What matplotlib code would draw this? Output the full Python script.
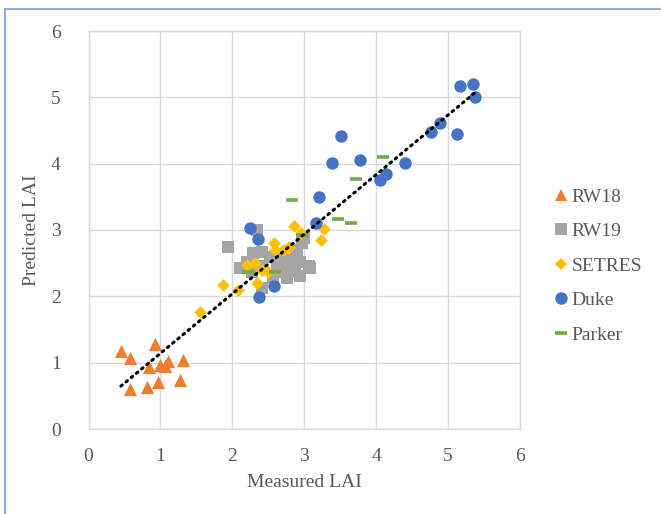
import numpy as np
import matplotlib
matplotlib.use("Agg")
import matplotlib.pyplot as plt
from matplotlib.lines import Line2D
from matplotlib.patches import Rectangle

plt.rcParams['font.family'] = ['Liberation Serif', 'DejaVu Serif']

# ---- data ----
rw18_x = [0.45, 0.58, 0.92, 0.84, 0.99, 1.06, 1.10, 1.32, 0.58, 0.81, 0.96, 1.27]
rw18_y = [1.17, 1.07, 1.28, 0.93, 0.97, 0.95, 1.02, 1.04, 0.60, 0.63, 0.71, 0.74]

rw19_x = [1.94, 2.34, 2.11, 2.20, 2.29, 2.41, 2.52, 2.66, 2.73, 2.76, 2.87, 2.94,
          2.97, 2.99, 3.06, 3.08, 2.83, 2.41, 2.62, 2.27, 2.39, 2.80, 2.90, 2.66,
          2.57, 2.94]
rw19_y = [2.74, 3.00, 2.42, 2.52, 2.65, 2.67, 2.60, 2.57, 2.45, 2.27, 2.37, 2.52,
          2.80, 2.88, 2.45, 2.42, 2.52, 2.12, 2.47, 2.37, 2.45, 2.62, 2.70, 2.37,
          2.28, 2.30]

setres_x = [2.86, 2.96, 3.27, 3.23, 2.58, 2.59, 2.71, 2.78, 2.79, 2.20, 2.32,
            2.41, 2.50, 2.34, 2.08, 1.87, 1.55]
setres_y = [3.06, 2.95, 3.01, 2.85, 2.80, 2.70, 2.70, 2.73, 2.75, 2.47, 2.50,
            2.40, 2.36, 2.20, 2.10, 2.17, 1.77]

duke_x = [5.17, 5.34, 5.38, 4.89, 4.76, 5.12, 3.51, 3.39, 3.78, 4.40, 4.14, 4.06,
          3.21, 3.17, 2.25, 2.36, 2.58, 2.37]
duke_y = [5.17, 5.20, 5.01, 4.62, 4.48, 4.44, 4.42, 4.01, 4.06, 4.01, 3.85, 3.76,
          3.50, 3.11, 3.03, 2.87, 2.16, 1.99]

parker_x = [4.10, 3.72, 3.47, 3.65, 2.83, 2.97, 2.22, 2.59]
parker_y = [4.10, 3.77, 3.16, 3.11, 3.45, 2.93, 2.36, 2.36]

series_names = ['RW18', 'RW19', 'SETRES', 'Duke', 'Parker']
ticks = [0, 1, 2, 3, 4, 5, 6]

# ---- figure ----
fig = plt.figure(figsize=(6.61, 5.14), dpi=100)
fig.patch.set_facecolor('white')
# light blue outer frame (left & top visible)
fig.patches.append(Rectangle((5/661, -0.1), 1.2, (514 - 9) / 514 + 0.1,
                             transform=fig.transFigure, fill=False,
                             edgecolor='#7FA8DC', linewidth=1.3))

ax = fig.add_axes([88.5/661, (514-429)/514, (520-88.5)/661, (429-31)/514])

grid_c = '#D9D9D9'
text_c = '#595959'

orange = '#ED7D31'
gray = '#A5A5A5'
yellow = '#FFC000'
blue = '#4472C4'
green = '#70AD47'

ax.scatter(rw18_x, rw18_y, marker='^', s=90, color=orange, linewidths=0, zorder=3)
ax.scatter(rw19_x, rw19_y, marker='s', s=68, color=gray, linewidths=0, zorder=3)
ax.scatter(setres_x, setres_y, marker='D', s=42, color=yellow, linewidths=0, zorder=3)
ax.scatter(duke_x, duke_y, marker='o', s=80, color=blue, linewidths=0, zorder=3)
ax.scatter(parker_x, parker_y, marker='_', s=75, color=green, linewidths=2.6, zorder=3)

# linear trend line over all data
all_x = np.concatenate([rw18_x, rw19_x, setres_x, duke_x, parker_x])
all_y = np.concatenate([rw18_y, rw19_y, setres_y, duke_y, parker_y])
k, b = np.polyfit(all_x, all_y, 1)
xl = np.array([all_x.min(), all_x.max()])
ax.plot(xl, k * xl + b, color='black', linewidth=2.2, linestyle=(0, (0.6, 1.6)),
        dash_capstyle='round', zorder=4)

ax.set_xlim(0, 6)
ax.set_ylim(0, 6)
ax.set_xticks(ticks)
ax.set_yticks(ticks)
ax.grid(True, color=grid_c, linewidth=1.0, zorder=0)
ax.set_axisbelow(True)
for sp in ax.spines.values():
    sp.set_color(grid_c)
    sp.set_linewidth(1.0)
ax.tick_params(length=0, labelsize=14, labelcolor=text_c)
ax.tick_params(axis='x', pad=14)
ax.tick_params(axis='y', pad=20)
ax.set_xlabel('Measured LAI', fontsize=14, color=text_c, labelpad=6)
ax.set_ylabel('Predicted LAI', fontsize=14, color=text_c, labelpad=8)

handles = [
    Line2D([], [], linestyle='none', marker='^', markersize=9, color=orange, markeredgewidth=0),
    Line2D([], [], linestyle='none', marker='s', markersize=8, color=gray, markeredgewidth=0),
    Line2D([], [], linestyle='none', marker='D', markersize=6.5, color=yellow, markeredgewidth=0),
    Line2D([], [], linestyle='none', marker='o', markersize=9, color=blue, markeredgewidth=0),
    Line2D([], [], linestyle='none', marker='_', markersize=9, color=green, markeredgewidth=2.6),
]
fig.legend(handles, series_names, loc='upper left',
           bbox_to_anchor=(553/661, 1 - 188/514), frameon=False,
           fontsize=14, labelcolor=text_c, handlelength=0.8, handletextpad=0.15,
           labelspacing=0.87, borderaxespad=0, borderpad=0)

fig.savefig('out.png', dpi=100)
